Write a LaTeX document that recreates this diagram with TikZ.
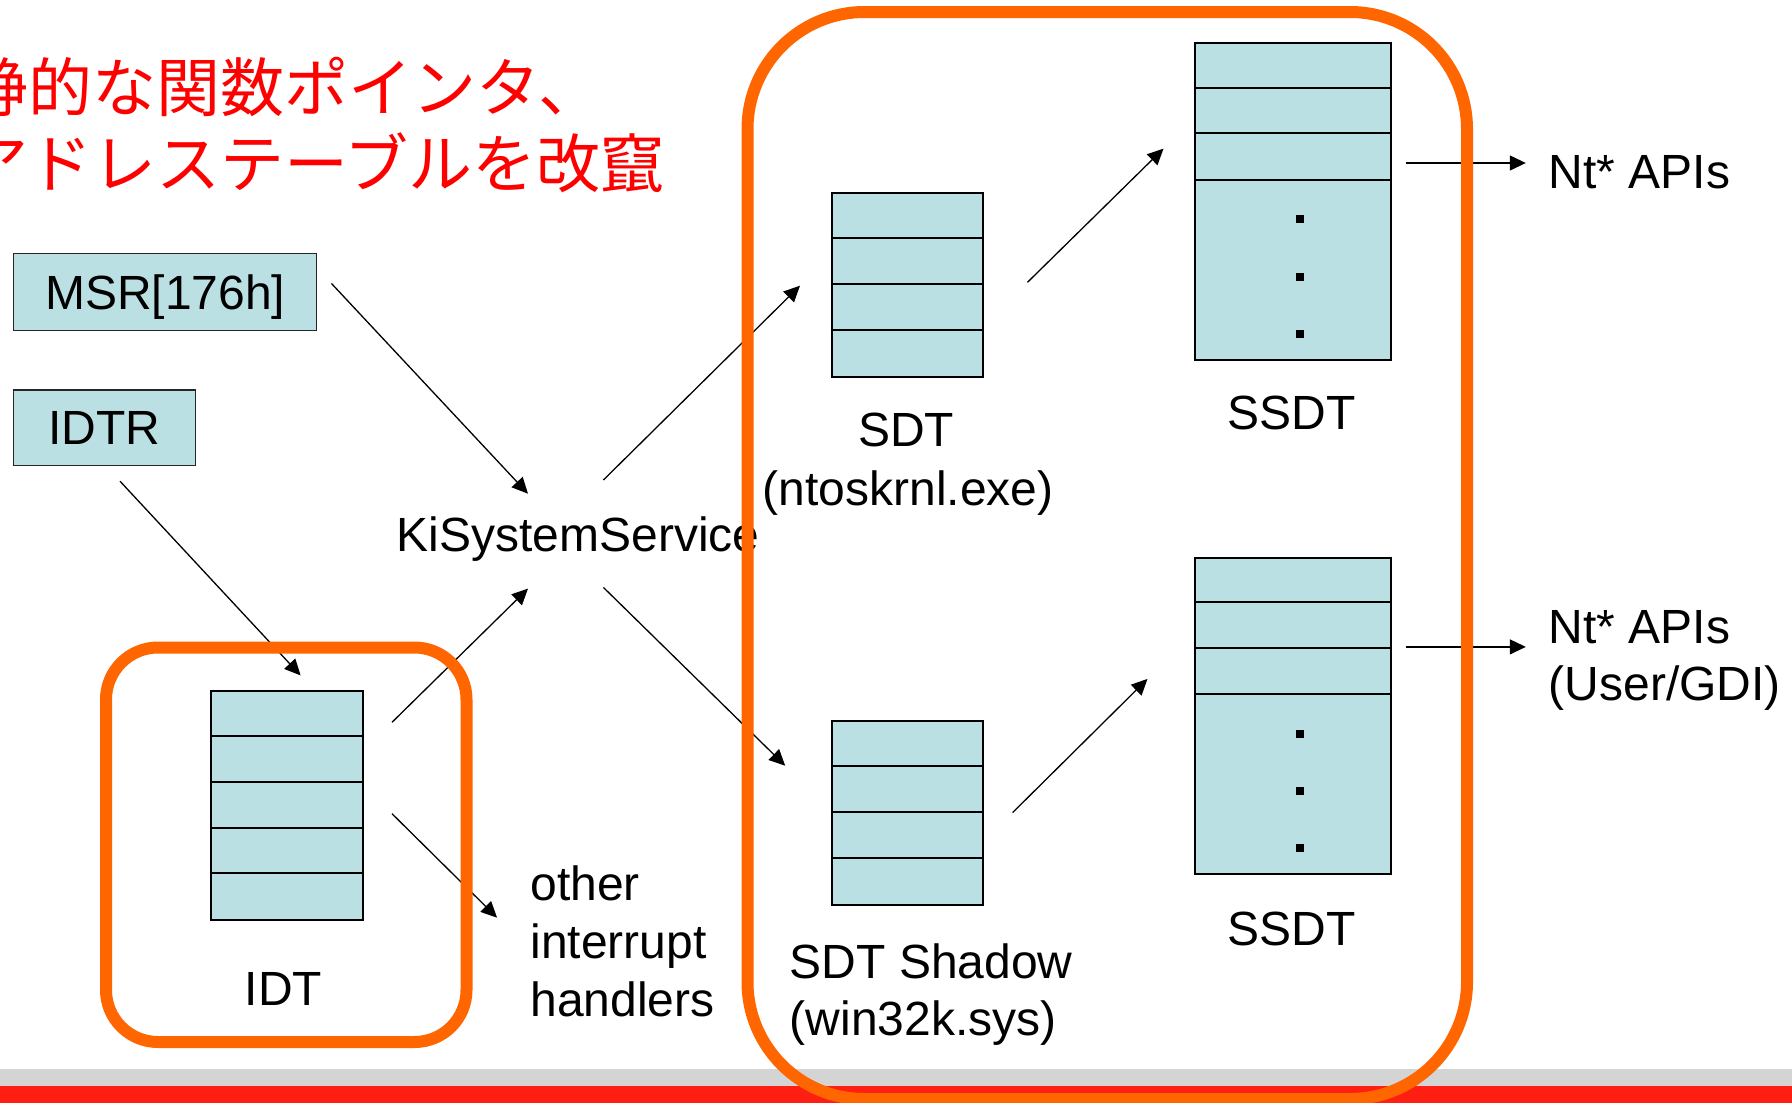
\documentclass[tikz,border=0pt]{standalone}
\usepackage{fontspec}
\setmainfont{Liberation Sans}
\newfontfamily\jpfont{Noto Sans CJK JP}
\usetikzlibrary{arrows.meta}
\definecolor{cellfill}{RGB}{187,224,227}
\definecolor{hlorange}{RGB}{255,102,0}
\definecolor{barred}{RGB}{255,30,18}
\definecolor{bargray}{RGB}{212,212,212}
\definecolor{titlered}{RGB}{255,0,0}
\begin{document}
\begin{tikzpicture}[x=1pt,y=1pt,
  lbl/.style={font=\fontsize{48}{58}\selectfont, inner sep=0pt},
  jptxt/.style={font=\jpfont\fontsize{64}{76}\selectfont, text=titlered, inner sep=0pt, anchor=base west},
  regbox/.style={draw=black!85, line width=1.5pt, fill=cellfill, inner sep=0pt, font=\fontsize{48}{58}\selectfont},
  tbl/.style={draw=black, line width=2pt, fill=cellfill, inner sep=0pt, anchor=north west},
  rowline/.style={line width=2pt},
  dotmark/.style={fill=black, minimum size=8pt, inner sep=0pt},
  link/.style={-{Triangle[length=16pt,width=15pt]}, line width=1.3pt},
  hl/.style={draw=hlorange, line width=12pt}
]
\useasboundingbox (0,0) rectangle (1792,-1103);
\fill[white] (0,0) rectangle (1792,-1103);
% bottom bars
\fill[bargray] (0,-1069) rectangle (1792,-1086);
\fill[barred] (0,-1086) rectangle (1792,-1103);

% title
\node[jptxt] (title1) at (-36,-111) {静的な関数ポインタ、};
\node[jptxt] (title2) at (-36,-187) {アドレステーブルを改竄};

% registers
\node[regbox, text depth=0pt, minimum width=303pt, minimum height=76.6pt] (msr) at (165.2,-292) {MSR[176h]};
\node[regbox, minimum width=181.7pt, minimum height=75.5pt] (idtr) at (104.5,-427.5) {IDTR};

% KiSystemService
\node[lbl, anchor=base west] (ki) at (396.6,-551) {KiSystemService};

% SDT table
\node[tbl, minimum width=151pt, minimum height=184pt] (sdt) at (830.9,-192) {};
\foreach \y in {238,284,330} \draw[rowline] (830.9,-\y) -- (981.9,-\y);
\node[lbl, anchor=base] (sdtlbl) at (906,-446.5) {SDT};
\node[lbl, anchor=base] (sdtfile) at (908,-505) {(ntoskrnl.exe)};

% SDT Shadow table
\node[tbl, minimum width=151pt, minimum height=184pt] (sdts) at (830.9,-720) {};
\foreach \y in {766,812,858} \draw[rowline] (830.9,-\y) -- (981.9,-\y);
\node[lbl, anchor=base west] (sdtslbl) at (789.7,-978) {SDT Shadow};
\node[lbl, anchor=base west] (sdtsfile) at (789.7,-1035) {(win32k.sys)};

% SSDT top
\node[tbl, minimum width=196pt, minimum height=316.6pt] (ssdt) at (1194.3,-42.3) {};
\foreach \y in {88,133,180} \draw[rowline] (1194.3,-\y) -- (1390.3,-\y);
\foreach \y in {219.4,276.6,333.7} \node[dotmark] at (1299.5,-\y) {};
\node[lbl, anchor=base] (ssdtlbl) at (1291.5,-429.4) {SSDT};

% SSDT bottom
\node[tbl, minimum width=196pt, minimum height=316.6pt] (ssdtb) at (1194.3,-556.6) {};
\foreach \y in {602.3,648,693.7} \draw[rowline] (1194.3,-\y) -- (1390.3,-\y);
\foreach \y in {733.8,790.9,848} \node[dotmark] at (1299.5,-\y) {};
\node[lbl, anchor=base] (ssdtblbl) at (1291.5,-945) {SSDT};

% IDT table
\node[tbl, minimum width=152pt, minimum height=228.6pt] (idt) at (210.3,-690.3) {};
\foreach \y in {736,781.7,827.5,873.2} \draw[rowline] (210.3,-\y) -- (362.3,-\y);
\node[lbl, anchor=base] (idtlbl) at (283.4,-1005.4) {IDT};

% other handlers
\node[lbl, anchor=base west] (oth1) at (530.3,-900) {other};
\node[lbl, anchor=base west] (oth2) at (530.3,-958.6) {interrupt};
\node[lbl, anchor=base west] (oth3) at (530.3,-1016.8) {handlers};

% Nt APIs
\node[lbl, anchor=base west] (nt1) at (1548.6,-188) {Nt* APIs};
\node[lbl, anchor=base west] (nt2) at (1548.6,-643) {Nt* APIs};
\node[lbl, anchor=base west] (nt2b) at (1548.6,-700) {(User/GDI)};

% arrow end points
\coordinate (msrOut) at (331.4,-283.4);
\coordinate (kiInA) at (528,-493.7);
\coordinate (idtrOut) at (120,-481.2);
\coordinate (idtIn) at (300.6,-675.4);
\coordinate (idtOutA) at (392,-722.3);
\coordinate (kiInB) at (528,-588.6);
\coordinate (idtOutB) at (392,-813.7);
\coordinate (othIn) at (497.1,-917.7);
\coordinate (kiOutA) at (603.4,-480);
\coordinate (sdtIn) at (800,-285.7);
\coordinate (kiOutB) at (603.4,-587.4);
\coordinate (sdtsIn) at (785.2,-765.7);
\coordinate (sdtOut) at (1027.5,-282.3);
\coordinate (ssdtIn) at (1163.5,-148.6);
\coordinate (sdtsOut) at (1012.6,-812.6);
\coordinate (ssdtbIn) at (1147.5,-678.9);
\coordinate (ssdtOut) at (1405.7,-163);
\coordinate (nt1In) at (1525.8,-163);
\coordinate (ssdtbOut) at (1405.7,-646.9);
\coordinate (nt2In) at (1525.8,-646.9);

\draw[link] (msrOut) -- (kiInA);
\draw[link] (idtrOut) -- (idtIn);
\draw[link] (idtOutA) -- (kiInB);
\draw[link] (idtOutB) -- (othIn);
\draw[link] (kiOutA) -- (sdtIn);
\draw[link] (kiOutB) -- (sdtsIn);
\draw[link] (sdtOut) -- (ssdtIn);
\draw[link] (sdtsOut) -- (ssdtbIn);
\draw[link] (ssdtOut) -- (nt1In);
\draw[link] (ssdtbOut) -- (nt2In);

% orange highlights
\draw[hl, rounded corners=52pt] (106,-647.5) rectangle (466.5,-1042);
\draw[hl, rounded corners=117pt] (747.5,-12) rectangle (1467,-1099);
\end{tikzpicture}
\end{document}
